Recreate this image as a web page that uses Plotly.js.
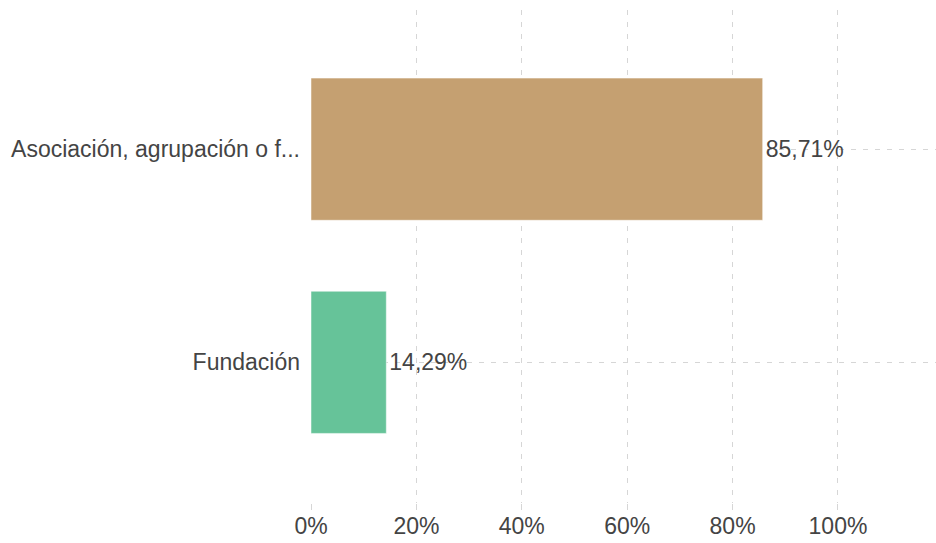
<!DOCTYPE html>
<html>
<head>
<meta charset="utf-8">
<script src="https://cdn.plot.ly/plotly-3.0.1.min.js"></script>
<style>html,body{margin:0;padding:0;background:#fff;}#chart{width:936px;height:543px;}</style>
</head>
<body>
<div id="chart"></div>
<script>
const categories = ['Fundación', 'Asociación, agrupación o f...'];
const values = [14.29, 85.71];
const barColors = ['#66c399', '#c5a071'];
const xTickVals = [0, 20, 40, 60, 80, 100];
const xTickText = ['0%', '20%', '40%', '60%', '80%', '100%'];

const trace = {
  type: 'bar',
  orientation: 'h',
  y: categories,
  x: values,
  marker: {color: barColors, line: {width: 1, color: 'rgba(255,255,255,0.5)'}},
  texttemplate: '%{x:.2f}%',
  textposition: 'outside',
  cliponaxis: false,
  textfont: {family: 'Liberation Sans, Arial, sans-serif', size: 23, color: '#444'},
  hoverinfo: 'none'
};

const layout = {
  width: 936,
  height: 543,
  margin: {l: 311, r: 0, t: 10, b: 40},
  paper_bgcolor: '#fff',
  plot_bgcolor: '#fff',
  separators: ',.',
  showlegend: false,
  bargap: 0.333,
  font: {family: 'Liberation Sans, Arial, sans-serif', size: 23, color: '#444'},
  xaxis: {
    range: [0, 118.6],
    tickmode: 'array',
    tickvals: xTickVals,
    ticktext: xTickText,
    showgrid: true,
    gridcolor: '#d6d6d6',
    griddash: '5px,7px',
    gridwidth: 1,
    zeroline: false,
    showline: false,
    ticks: 'outside',
    ticklen: 6,
    tickcolor: '#d6d6d6',
    ticklabelstandoff: -4,
    tickfont: {size: 23, color: '#444'}
  },
  yaxis: {
    type: 'category',
    range: [-0.66, 1.653],
    showgrid: true,
    gridcolor: '#d6d6d6',
    griddash: '5px,7px',
    gridwidth: 1,
    zeroline: false,
    showline: false,
    ticks: '',
    ticklabelstandoff: 10,
    tickfont: {size: 23, color: '#444'}
  }
};

Plotly.newPlot('chart', [trace], layout, {displayModeBar: false, staticPlot: true});
</script>
</body>
</html>
